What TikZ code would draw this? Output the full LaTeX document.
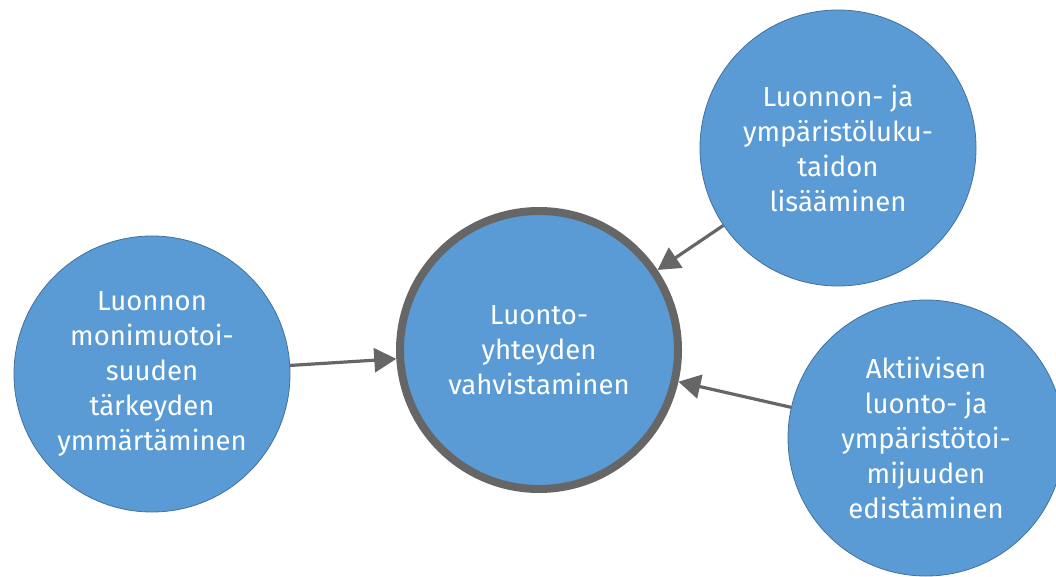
\documentclass[tikz,border=0pt]{standalone}
\usepackage{fontspec}
\setmainfont{Fira Sans}
\usetikzlibrary{arrows.meta}
\definecolor{kblue}{HTML}{5B9BD5}
\definecolor{kedge}{HTML}{41719C}
\definecolor{kgray}{HTML}{666666}
\begin{document}
\begin{tikzpicture}[x=1pt, y=-1pt,
	ympyra/.style={shape=circle, draw=kedge, line width=0.8pt, fill=kblue, text=white, align=center, inner sep=0pt, minimum size=276pt, font=\fontsize{27.5}{35}\selectfont},
	keski/.style={ympyra, draw=kgray, line width=8pt, minimum size=278pt},
	nuoli/.style={-{Triangle[length=22pt, width=24pt]}, draw=kgray, line width=3.2pt}]
	\clip (0,0) rectangle (1056,577);

	\node (z1)[ympyra] at (152,374) {
		Luonnon \\ monimuotoi- \\ suuden \\ tärkeyden \\ ymmärtäminen
	};

	\node (z2)[keski] at (539,350) {
		Luonto- \\ yhteyden \\ vahvistaminen
	};

	\node (z3)[ympyra] at (838,148) {
		Luonnon- ja \\ ympäristöluku- \\ taidon \\ lisääminen
	};

	\node (z4)[ympyra] at (926,438) {
		Aktiivisen \\ luonto- ja \\ ympäristötoi- \\ mijuuden \\ edistäminen
	};

	\draw[nuoli] (z1) -- (z2);
	\draw[nuoli] (z3) -- (z2);
	\draw[nuoli] (z4) -- (z2);
\end{tikzpicture}
\end{document}
